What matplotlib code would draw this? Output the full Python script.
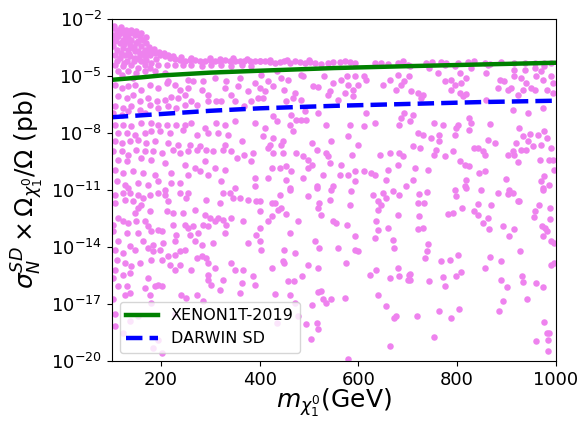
import numpy as np
import matplotlib.pyplot as plt
from matplotlib.ticker import NullLocator

# scan points: (neutralino mass [GeV], log10 of sigma_SD * Omega/Omega [pb])
scan_low_upper = [
    (110, -2.65), (120, -2.56), (113, -2.91), (126, -2.82), (137, -2.74), (147, -2.82),
    (157, -2.91), (164, -3.09), (170, -3.26), (106, -3.18), (116, -3.26), (130, -3.18),
    (140, -3.09), (150, -3.26), (160, -3.44), (123, -3.53), (110, -3.61), (133, -3.61),
    (143, -3.53), (167, -3.61), (153, -3.70), (174, -3.70), (180, -3.70), (103, -2.82),
    (116, -2.74), (133, -3.00), (153, -3.18), (123, -3.09), (103, -3.44), (137, -3.35),
    (147, -3.70), (164, -3.79), (103, -2.47), (113, -2.56),
    (105, -2.35), (118, -2.40), (128, -2.55), (140, -2.60), (150, -2.65), (160, -2.75),
    (170, -2.95), (108, -3.00), (125, -3.30), (145, -3.45), (175, -3.45), (185, -3.60),
    (195, -3.72), (205, -3.80), (215, -3.90), (225, -3.95), (118, -3.80), (135, -3.85),
    (155, -4.10), (170, -4.15), (190, -4.10), (110, -4.20), (125, -4.30), (145, -4.20),
    (106, -3.88), (116, -4.05), (126, -3.88), (137, -3.96), (147, -4.05), (157, -3.88),
    (167, -3.96), (177, -3.88), (187, -3.79), (197, -3.88), (207, -3.96), (218, -4.05),
    (228, -4.09), (238, -4.14), (248, -4.23), (258, -4.14), (268, -4.14), (278, -4.23),
    (288, -4.19), (299, -4.14), (309, -4.23), (319, -4.19), (329, -4.14), (339, -4.23),
    (349, -4.19), (359, -4.23), (369, -4.23), (380, -4.19), (390, -4.23), (400, -4.19),
    (240, -4.00), (260, -4.05), (300, -4.05), (320, -4.08), (345, -4.05), (375, -4.08),
    (106, -4.40), (123, -4.49), (140, -4.40), (153, -4.58), (167, -4.40), (180, -4.32),
    (194, -4.40), (211, -4.40), (228, -4.40), (245, -4.44), (261, -4.40), (282, -4.49),
    (302, -4.44), (322, -4.40), (342, -4.46), (363, -4.44), (383, -4.49), (113, -4.75),
    (133, -4.75), (150, -4.84), (167, -4.75), (187, -4.75), (207, -4.84), (177, -4.58),
    (160, -4.23), (130, -4.23), (120, -4.93), (143, -5.11),
    (106, -5.46), (120, -5.63), (133, -5.54), (147, -5.46), (160, -5.72), (177, -5.46),
    (194, -5.63), (211, -5.37), (228, -5.46), (238, -5.72), (255, -5.63), (113, -6.07),
    (130, -6.16), (143, -5.98), (157, -6.33), (174, -6.16), (191, -6.33), (207, -6.25),
    (221, -6.12), (234, -6.16), (248, -5.98), (261, -6.33), (282, -5.72), (295, -5.98),
    (312, -6.33), (329, -5.63), (342, -5.98), (356, -5.54), (376, -5.81), (390, -5.37),
    (106, -6.60), (123, -6.68), (140, -6.60), (157, -6.77), (177, -6.51), (194, -6.68),
    (214, -6.60), (231, -6.68), (248, -6.54), (272, -6.51), (295, -6.33), (322, -6.33),
    (103, -6.95), (120, -7.04), (133, -6.86), (167, -6.95), (349, -6.33), (369, -6.60),
    (383, -6.33), (396, -6.16), (214, -5.28), (265, -5.28), (285, -5.28), (309, -5.11),
    (332, -5.28), (359, -5.11), (255, -5.19),
    (106, -7.56), (123, -7.56), (140, -7.65), (160, -7.47), (180, -7.47), (194, -7.56),
    (211, -7.56), (231, -7.56), (248, -7.56), (261, -7.47), (288, -7.74), (312, -7.47),
    (329, -7.56), (349, -7.39), (390, -7.47), (113, -8.00), (130, -8.00), (147, -8.09),
    (167, -8.00), (180, -7.91), (197, -7.91), (218, -8.00), (245, -7.82), (272, -8.09),
    (295, -8.00), (315, -8.00), (336, -8.09), (106, -8.44), (120, -8.53), (137, -8.44),
    (153, -8.35), (170, -8.53), (187, -8.44), (214, -8.53), (234, -8.61), (258, -8.61),
    (278, -8.70), (329, -8.61), (363, -8.44), (103, -8.96), (120, -8.96), (133, -9.14),
    (150, -8.88), (167, -8.96), (184, -8.96), (201, -9.05), (224, -8.88), (238, -9.05),
    (255, -8.96), (272, -8.88), (292, -8.88), (305, -8.96), (326, -8.88), (342, -8.96),
    (369, -9.14), (386, -9.05), (113, -9.40), (130, -9.49), (160, -9.32), (180, -9.40),
    (207, -9.58), (248, -9.67), (268, -9.84), (288, -9.49), (309, -9.84), (329, -9.93),
    (353, -9.32), (383, -9.49), (106, -9.93), (123, -10.10), (143, -10.02), (164, -10.10),
    (187, -10.19), (221, -10.10), (255, -10.19), (278, -10.02), (295, -10.19), (390, -10.37),
    (110, -10.54), (126, -10.72), (153, -10.63), (174, -10.72), (194, -10.54), (221, -10.63),
    (238, -10.63), (322, -10.54), (349, -10.89), (390, -10.81), (133, -10.89), (207, -10.98),
]

scan_mid_upper = [
    (400, -4.23), (410, -4.23), (420, -4.26), (430, -4.32), (440, -4.28), (450, -4.23),
    (461, -4.32), (471, -4.23), (481, -4.26), (491, -4.32), (501, -4.28), (511, -4.32),
    (525, -4.37), (538, -4.32), (548, -4.28), (562, -4.26), (572, -4.23), (582, -4.28),
    (592, -4.32), (633, -4.32), (646, -4.32), (660, -4.37), (680, -4.32), (690, -4.23),
    (700, -4.40), (420, -4.15), (455, -4.15), (500, -4.18),
    (403, -4.93), (417, -5.28), (427, -5.54), (434, -4.75), (444, -5.11), (457, -5.19),
    (484, -4.93), (471, -5.89), (450, -5.72), (400, -5.63), (410, -5.81), (488, -5.02),
    (508, -5.54), (518, -5.60), (531, -5.02), (542, -5.81), (548, -5.37), (565, -5.19),
    (576, -5.02), (579, -5.46), (592, -5.02), (589, -5.72), (612, -5.02), (616, -5.19),
    (599, -5.46), (572, -5.89), (589, -6.07), (558, -6.25), (538, -5.98), (650, -5.46),
    (663, -5.19), (677, -5.72), (687, -5.46), (693, -5.28), (680, -4.93), (703, -5.02),
    (454, -6.33), (467, -6.16), (484, -6.25), (407, -6.16),
    (427, -7.12), (434, -7.39), (410, -7.74), (464, -7.04), (474, -7.30), (484, -7.30),
    (494, -7.30), (491, -6.86), (518, -6.95), (461, -7.56), (467, -7.91), (535, -7.56),
    (582, -7.56), (616, -6.95), (612, -7.65), (633, -7.47), (687, -7.21), (693, -6.95),
    (683, -7.56), (407, -8.18), (427, -8.26), (420, -8.61), (447, -8.44), (444, -8.61),
    (505, -8.53), (545, -8.44), (579, -8.18), (599, -8.61), (417, -8.79), (427, -9.05),
    (447, -9.05), (474, -9.05), (488, -9.23), (498, -9.40), (515, -8.88), (535, -9.05),
    (538, -9.23), (542, -9.58), (565, -9.67), (586, -9.14), (643, -9.14), (663, -9.05),
    (683, -9.05), (690, -9.23), (424, -9.84), (440, -9.84), (454, -9.75), (464, -10.02),
    (498, -9.84), (505, -9.67), (562, -10.19), (579, -10.19), (592, -10.02), (612, -10.02),
    (626, -10.10), (633, -10.19), (660, -9.93), (680, -9.67), (417, -10.37), (454, -10.46),
    (488, -10.37), (528, -10.19), (592, -10.54), (656, -10.46), (697, -10.81), (461, -10.89),
    (515, -10.81), (548, -10.81),
]

scan_high_upper = [
    (737, -4.32), (750, -4.28), (768, -4.28), (778, -4.32), (801, -4.32), (822, -4.28),
    (835, -4.23), (856, -4.32), (866, -4.37), (889, -4.26), (916, -4.32), (937, -4.32),
    (957, -4.32), (977, -4.32), (991, -4.32), (704, -4.49), (744, -4.58), (761, -4.84),
    (775, -4.40), (795, -4.49), (805, -4.84), (818, -5.11), (788, -5.19), (775, -5.28),
    (795, -5.46), (808, -5.37), (829, -4.58), (859, -4.84), (862, -4.40), (886, -5.19),
    (896, -5.28), (916, -4.67), (916, -5.02), (930, -5.11), (937, -4.67), (940, -5.37),
    (957, -4.58), (960, -5.02), (970, -4.75), (977, -4.49), (991, -5.02), (994, -5.37),
    (974, -5.19), (950, -5.63), (957, -5.72), (910, -5.63), (903, -5.72), (883, -5.63),
    (933, -5.72), (983, -5.72), (994, -5.89), (923, -5.98), (707, -5.81), (720, -5.89),
    (727, -6.16), (731, -5.98), (788, -5.72), (805, -5.89), (812, -6.07), (818, -5.95),
    (859, -6.25),
    (710, -7.04), (704, -7.39), (913, -6.77), (943, -6.95), (974, -6.68), (825, -7.21),
    (829, -7.47), (801, -7.56), (798, -7.74), (825, -7.82), (754, -7.47), (771, -7.56),
    (866, -7.53), (926, -7.74), (721, -8.00), (731, -8.09), (764, -8.09), (747, -8.26),
    (764, -8.40), (795, -8.09), (933, -8.18), (947, -8.05), (963, -8.09), (977, -7.91),
    (983, -8.26), (920, -8.53), (943, -8.44), (953, -8.70), (970, -8.61), (991, -8.79),
    (711, -8.70), (724, -8.79), (758, -8.88), (754, -9.18), (775, -9.23), (791, -8.93),
    (835, -8.79), (842, -8.79), (852, -8.96), (856, -9.18), (862, -8.35), (876, -8.53),
    (903, -9.14), (913, -8.96), (916, -9.18), (930, -8.88), (940, -8.88), (967, -9.40),
    (987, -9.40), (994, -9.40), (805, -9.49), (815, -9.67), (825, -9.75), (714, -9.84),
    (741, -9.93), (845, -10.10), (856, -10.02), (923, -9.53), (997, -9.93), (711, -10.46),
    (818, -10.46), (900, -10.40), (977, -10.28), (970, -10.54), (987, -10.72), (974, -10.89),
    (815, -10.81),
]

scan_low_lower = [
    (106, -11.25), (123, -11.16), (137, -11.16), (153, -11.25), (164, -11.42), (177, -11.25),
    (194, -11.16), (207, -11.25), (214, -11.60), (238, -11.16), (255, -11.16), (251, -11.42),
    (292, -11.51), (319, -11.68), (326, -11.16), (339, -11.16), (346, -11.42), (359, -11.42),
    (376, -11.51), (393, -11.60), (106, -11.68), (126, -11.51), (143, -11.60), (160, -11.77),
    (177, -12.12), (153, -11.95), (147, -12.21), (211, -12.12), (224, -12.21), (245, -12.21),
    (268, -12.04), (288, -12.30), (299, -12.47), (315, -12.47), (326, -12.56), (342, -12.47),
    (366, -12.65), (113, -12.47), (123, -12.65), (133, -12.74), (150, -12.65), (167, -12.65),
    (174, -12.91), (194, -13.09), (201, -13.18), (224, -12.82), (248, -12.82), (255, -13.00),
    (265, -12.91), (285, -12.82), (295, -12.91), (309, -12.65), (332, -12.82), (103, -12.82),
    (103, -13.18), (130, -13.26), (153, -13.26), (180, -13.18), (231, -13.35), (258, -13.35),
    (275, -13.26), (329, -13.26), (393, -13.35), (113, -13.70), (137, -13.97), (164, -13.70),
    (184, -13.88), (204, -13.79), (228, -13.70), (238, -14.23), (248, -14.14), (268, -13.70),
    (282, -13.88), (305, -13.79), (376, -13.79), (106, -14.14), (123, -14.32), (147, -14.14),
    (174, -14.05), (184, -14.23), (197, -14.14), (214, -14.49), (228, -14.40), (238, -14.93),
    (272, -14.58), (282, -14.49), (292, -14.58), (110, -14.67), (126, -14.84), (140, -15.02),
    (157, -14.84), (180, -14.67), (201, -14.67), (218, -14.93), (295, -14.84), (309, -15.11),
    (342, -14.84), (349, -15.19), (366, -15.19), (106, -15.19), (123, -15.46), (137, -15.37),
    (174, -15.63), (187, -16.07), (194, -15.98), (228, -15.19), (261, -15.19), (295, -15.46),
    (295, -15.72), (302, -15.98), (326, -15.72), (363, -15.89), (386, -15.54), (390, -15.98),
    (103, -15.63), (113, -16.07), (130, -16.07), (137, -16.42), (167, -16.16), (177, -16.51),
    (201, -16.07), (241, -16.51), (251, -16.68), (272, -16.51), (285, -16.86), (319, -16.25),
    (359, -16.42), (103, -16.77), (126, -16.51), (180, -16.95), (106, -17.56), (106, -18.18),
    (123, -18.53), (137, -17.91), (153, -17.65), (184, -19.32), (194, -18.88), (201, -19.58),
    (228, -17.56),
]

scan_mid_lower = [
    (400, -11.60), (424, -11.68), (430, -11.68), (440, -11.25), (461, -10.98), (498, -11.33),
    (515, -10.90), (521, -11.68), (518, -11.95), (525, -12.30), (545, -10.98), (542, -11.51),
    (585, -11.07), (582, -11.77), (629, -11.25), (639, -11.60), (650, -11.16), (656, -11.42),
    (670, -11.07), (646, -11.77), (639, -12.04), (683, -11.25), (680, -12.30), (437, -12.04),
    (444, -11.95), (424, -12.39), (417, -12.61), (454, -12.26), (478, -12.61), (400, -12.12),
    (548, -12.61), (555, -12.74), (576, -12.82), (636, -12.61), (660, -13.00), (639, -13.09),
    (400, -13.00), (461, -13.26), (400, -13.70), (403, -14.14), (450, -14.14), (471, -14.32),
    (511, -13.70), (521, -14.05), (558, -14.05), (592, -13.44), (633, -13.53), (670, -13.61),
    (673, -14.05), (592, -14.14), (599, -14.23), (575, -14.84), (447, -14.75), (450, -14.84),
    (424, -15.11), (498, -14.93), (518, -15.11), (623, -15.46), (636, -15.19), (663, -15.63),
    (680, -15.11), (683, -15.54), (703, -15.46), (700, -15.72), (457, -15.77), (469, -15.77),
    (486, -15.54), (431, -16.47), (461, -16.54), (471, -16.95), (505, -17.04), (518, -16.37),
    (525, -16.30), (528, -16.77), (535, -16.95), (545, -16.77), (573, -16.68), (639, -16.54),
    (656, -17.09), (673, -17.74), (677, -17.65), (494, -18.05), (517, -18.00), (519, -18.32),
    (503, -18.84), (663, -19.23), (579, -19.90), (478, -17.65), (434, -18.00),
]

scan_high_lower = [
    (723, -11.21), (738, -11.10), (796, -10.98), (798, -11.33), (818, -10.90), (849, -10.98),
    (882, -11.16), (906, -10.98), (903, -11.21), (913, -11.16), (923, -11.56), (926, -11.56),
    (974, -10.98), (721, -11.68), (733, -11.68), (842, -11.74), (868, -11.81), (809, -11.95),
    (781, -12.26), (791, -12.21), (835, -12.12), (843, -12.30), (862, -12.47), (852, -12.74),
    (864, -13.04), (965, -11.77), (958, -12.12), (989, -11.95), (955, -12.44), (989, -12.53),
    (723, -12.39), (720, -13.04), (731, -13.00), (893, -12.91), (915, -13.05), (905, -13.44),
    (972, -12.91), (978, -13.00), (982, -13.18), (974, -13.44), (990, -13.70), (996, -13.79),
    (741, -13.84), (738, -14.23), (734, -14.61), (768, -14.72), (785, -14.68), (801, -14.40),
    (866, -14.54), (889, -14.72), (927, -14.23), (856, -15.11), (704, -15.42), (704, -15.72),
    (744, -15.81), (772, -15.58), (797, -15.54), (807, -15.33), (776, -16.07), (888, -15.72),
    (901, -16.12), (931, -15.54), (934, -15.86), (960, -15.89), (975, -16.12), (990, -14.96),
    (893, -16.83), (941, -16.75), (719, -17.65), (763, -17.40), (788, -17.75), (803, -17.25),
    (885, -17.35), (976, -17.95), (982, -18.54), (987, -18.54), (960, -18.93), (985, -18.88),
    (753, -18.75), (984, -19.49), (997, -14.84),
]

# exclusion / projected sensitivity curves (log10 pb)
xenon_mass = [100, 160, 200, 300, 400, 550, 700, 850, 1000]
xenon_log = [-5.20, -5.07, -4.97, -4.82, -4.72, -4.58, -4.48, -4.39, -4.30]
darwin_mass = [100, 200, 300, 400, 550, 700, 850, 1000]
darwin_log = [-7.17, -7.00, -6.83, -6.70, -6.57, -6.47, -6.37, -6.30]

points = np.array(scan_low_upper + scan_mid_upper + scan_high_upper
                  + scan_low_lower + scan_mid_lower + scan_high_lower)
mass = points[:, 0]
sigma = 10.0 ** points[:, 1]

fig, ax = plt.subplots(figsize=(5.82, 4.24), dpi=100)
fig.subplots_adjust(left=0.192, right=0.955, top=0.955, bottom=0.149)

ax.scatter(mass, sigma, s=22, color='violet', linewidths=0, zorder=1)
ax.plot(xenon_mass, 10.0 ** np.array(xenon_log), color='green', lw=3.2,
        label='XENON1T-2019', zorder=2)
ax.plot(darwin_mass, 10.0 ** np.array(darwin_log), color='blue', ls='--', lw=3.2,
        label='DARWIN SD', zorder=2)

ax.set_yscale('log')
ax.set_xlim(100, 1000)
ax.set_ylim(1e-20, 1e-2)
ax.set_yticks([1e-20, 1e-17, 1e-14, 1e-11, 1e-8, 1e-5, 1e-2])
ax.yaxis.set_minor_locator(NullLocator())
ax.set_xticks([200, 400, 600, 800, 1000])
ax.tick_params(labelsize=13)

ax.set_xlabel(r'$m_{\chi_1^0}$(GeV)', fontsize=18, labelpad=-1)
ax.set_ylabel(r'$\sigma_N^{SD}\times\Omega_{\chi_1^0}/\Omega$ (pb)', fontsize=18)
ax.legend(loc='lower left', fontsize=11.5)

fig.savefig('out.png', dpi=100)
